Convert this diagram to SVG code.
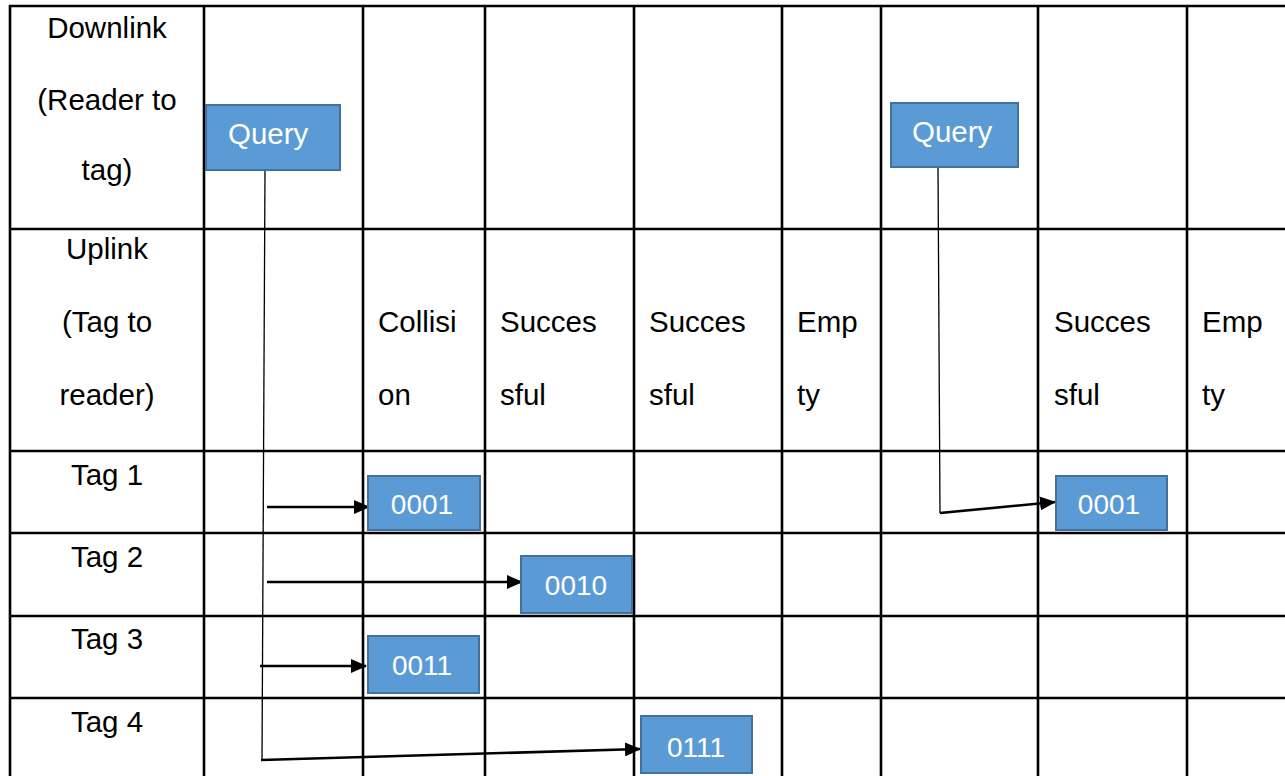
<svg xmlns="http://www.w3.org/2000/svg" width="1285" height="776" viewBox="0 0 1285 776">
<style>
.grid line{stroke:#000;stroke-width:2.6}
.t{font-family:"Liberation Sans",Arial,sans-serif;font-size:29.5px;fill:#000}
.c{text-anchor:middle}
.box rect{fill:#5B9BD5;stroke:#41719C;stroke-width:2}
.box text{font-family:"Liberation Sans",Arial,sans-serif;font-size:28px;fill:#fff}
.box .q{font-size:29.5px}
.conn line{stroke:#000}
.thin{stroke-width:1.3}
.arr{stroke-width:2.6}
</style>
<defs>
<marker id="ah" markerWidth="16" markerHeight="14" refX="15" refY="7" orient="auto" markerUnits="userSpaceOnUse">
<path d="M0,0 L16,7 L0,14 Z" fill="#000"/>
</marker>
</defs>
<rect width="1285" height="776" fill="#fff"/>
<g id="grid" class="grid">
<line x1="9" y1="6" x2="1285" y2="6"/>
<line x1="9" y1="229" x2="1285" y2="229"/>
<line x1="9" y1="451" x2="1285" y2="451"/>
<line x1="9" y1="533" x2="1285" y2="533"/>
<line x1="9" y1="616" x2="1285" y2="616"/>
<line x1="9" y1="698" x2="1285" y2="698"/>
<line x1="10" y1="5" x2="10" y2="776"/>
<line x1="204" y1="5" x2="204" y2="776"/>
<line x1="363" y1="5" x2="363" y2="776"/>
<line x1="485" y1="5" x2="485" y2="776"/>
<line x1="634" y1="5" x2="634" y2="776"/>
<line x1="782" y1="5" x2="782" y2="776"/>
<line x1="881" y1="5" x2="881" y2="776"/>
<line x1="1038" y1="5" x2="1038" y2="776"/>
<line x1="1187" y1="5" x2="1187" y2="776"/>
</g>
<g id="labels">
<text class="t c" x="107" y="38">Downlink</text>
<text class="t c" x="107" y="110">(Reader to</text>
<text class="t c" x="107" y="180">tag)</text>
<text class="t c" x="107" y="259">Uplink</text>
<text class="t c" x="107" y="332">(Tag to</text>
<text class="t c" x="107" y="405">reader)</text>
<text class="t" x="378" y="332">Collisi</text>
<text class="t" x="378" y="405">on</text>
<text class="t" x="500" y="332">Succes</text>
<text class="t" x="500" y="405">sful</text>
<text class="t" x="649" y="332">Succes</text>
<text class="t" x="649" y="405">sful</text>
<text class="t" x="797" y="332">Emp</text>
<text class="t" x="797" y="405">ty</text>
<text class="t" x="1054" y="332">Succes</text>
<text class="t" x="1054" y="405">sful</text>
<text class="t" x="1202" y="332">Emp</text>
<text class="t" x="1202" y="405">ty</text>
<text class="t c" x="107" y="485">Tag 1</text>
<text class="t c" x="107" y="567">Tag 2</text>
<text class="t c" x="107" y="649">Tag 3</text>
<text class="t c" x="107" y="732">Tag 4</text>
</g>
<g id="connectors" class="conn">
<line class="thin" x1="265" y1="170" x2="262" y2="760"/>
<line class="thin" x1="938" y1="167" x2="940" y2="513"/>
<line class="arr" x1="267" y1="507" x2="369" y2="507" marker-end="url(#ah)"/>
<line class="arr" x1="267" y1="582" x2="522" y2="582" marker-end="url(#ah)"/>
<line class="arr" x1="260" y1="666" x2="366" y2="666" marker-end="url(#ah)"/>
<line class="arr" x1="261" y1="760" x2="640" y2="749" marker-end="url(#ah)"/>
<line class="arr" x1="940" y1="513" x2="1055" y2="502" marker-end="url(#ah)"/>
</g>
<g id="query1" class="box"><rect x="206" y="105" width="134" height="65"/><text class="q" x="228" y="144">Query</text></g>
<g id="query2" class="box"><rect x="891" y="103" width="127" height="64"/><text class="q" x="912" y="142">Query</text></g>
<g id="tag1a" class="box"><rect x="368" y="476" width="112" height="54"/><text x="422" y="514" text-anchor="middle">0001</text></g>
<g id="tag2" class="box"><rect x="521" y="556" width="111" height="57"/><text x="576" y="595" text-anchor="middle">0010</text></g>
<g id="tag3" class="box"><rect x="368" y="636" width="111" height="57"/><text x="422" y="675" text-anchor="middle">0011</text></g>
<g id="tag4" class="box"><rect x="641" y="716" width="111" height="57"/><text x="696" y="757" text-anchor="middle">0111</text></g>
<g id="tag1b" class="box"><rect x="1056" y="476" width="111" height="54"/><text x="1109" y="514" text-anchor="middle">0001</text></g>
</svg>
